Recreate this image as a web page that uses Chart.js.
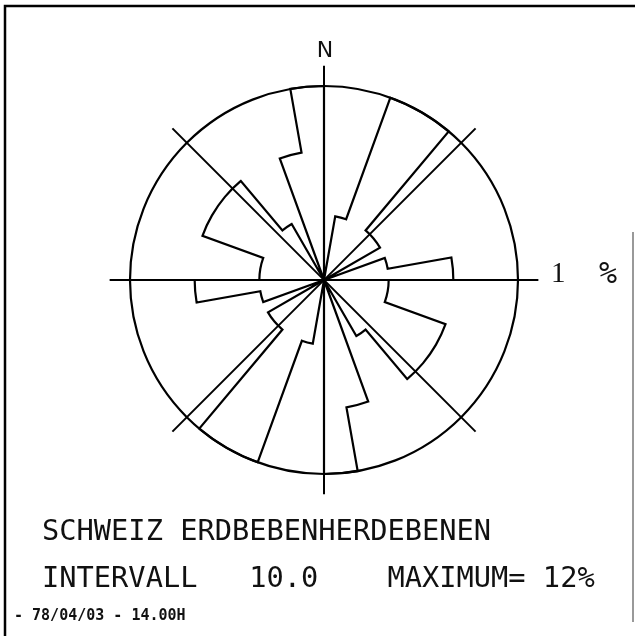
<!DOCTYPE html>
<html>
<head>
<meta charset="utf-8">
<script src="https://cdn.jsdelivr.net/npm/chart.js@4.4.0/dist/chart.umd.min.js"></script>
<style>
  html, body { margin: 0; padding: 0; background: #fff; }
  #wrap { width: 635px; height: 636px; position: relative; }
</style>
</head>
<body>
<div id="wrap"><canvas id="rose" width="635" height="636"></canvas></div>
<script>
'use strict';

// start of each 10 degree class, clockwise from north
let sectorStart = [0, 10, 20, 30, 40, 50, 60, 70, 80,
                   90, 100, 110, 120, 130, 140, 150, 160, 170,
                   180, 190, 200, 210, 220, 230, 240, 250, 260,
                   270, 280, 290, 300, 310, 320, 330, 340, 350];

// percent per class (planes are axial, so the rose repeats after 180)
let percent = [0, 4, 12, 12, 4, 4, 0, 4, 8,
               4, 4, 8, 8, 8, 4, 0, 8, 12,
               0, 4, 12, 12, 4, 4, 0, 4, 8,
               4, 4, 8, 8, 8, 4, 0, 8, 12];

let maxPercent = 12;
let crossAngles = [0, 45, 90, 135];

let titleText = 'SCHWEIZ ERDBEBENHERDEBENEN';
let infoText = 'INTERVALL   10.0    MAXIMUM= 12%';
let dateText = '- 78/04/03 - 14.00H';

let frame = {
  id: 'frame',
  beforeDraw(chart) {
    let ctx = chart.ctx;
    ctx.save();
    ctx.strokeStyle = '#000';
    ctx.lineWidth = 2.5;
    ctx.beginPath();
    ctx.moveTo(5, 636);
    ctx.lineTo(5, 6);
    ctx.lineTo(635, 6);
    ctx.stroke();
    ctx.strokeStyle = '#999';
    ctx.lineWidth = 2;
    ctx.beginPath();
    ctx.moveTo(633, 232);
    ctx.lineTo(633, 622);
    ctx.stroke();
    ctx.restore();
  }
};

let axes = {
  id: 'axes',
  beforeDatasetsDraw(chart) {
    let ctx = chart.ctx;
    let s = chart.scales.r;
    let ext = s.drawingArea * 1.105;
    ctx.save();
    ctx.strokeStyle = '#000';
    ctx.lineWidth = 2;
    crossAngles.forEach(function (deg) {
      let a = deg * Math.PI / 180 - Math.PI / 2;
      ctx.beginPath();
      ctx.moveTo(s.xCenter - ext * Math.cos(a), s.yCenter - ext * Math.sin(a));
      ctx.lineTo(s.xCenter + ext * Math.cos(a), s.yCenter + ext * Math.sin(a));
      ctx.stroke();
    });

    ctx.fillStyle = '#111';
    ctx.textBaseline = 'alphabetic';
    ctx.textAlign = 'center';
    ctx.font = '22px "DejaVu Sans"';
    ctx.fillText('N', s.xCenter + 1, s.yCenter - s.drawingArea - 29);
    ctx.textAlign = 'left';
    ctx.font = '29px "Liberation Serif"';
    ctx.fillText('1', s.xCenter + s.drawingArea + 33, s.yCenter + 2);
    ctx.font = '30px "DejaVu Sans Mono"';
    ctx.fillText('%', s.xCenter + s.drawingArea + 81, s.yCenter + 3);
    ctx.restore();
  }
};

let roseOutline = {
  id: 'roseOutline',
  afterDatasetsDraw(chart) {
    let ctx = chart.ctx;
    let arcs = chart.getDatasetMeta(0).data;
    ctx.save();
    ctx.strokeStyle = '#000';
    ctx.lineWidth = 2.2;
    ctx.beginPath();
    arcs.forEach(function (arc) {
      let p = arc.getProps(['x', 'y', 'startAngle', 'endAngle', 'outerRadius'], true);
      ctx.lineTo(p.x + p.outerRadius * Math.cos(p.startAngle), p.y + p.outerRadius * Math.sin(p.startAngle));
      ctx.arc(p.x, p.y, p.outerRadius, p.startAngle, p.endAngle);
    });
    ctx.closePath();
    ctx.stroke();
    ctx.restore();
  }
};

let captions = {
  id: 'captions',
  afterDraw(chart) {
    let ctx = chart.ctx;
    ctx.save();
    ctx.fillStyle = '#111';
    ctx.textAlign = 'left';
    ctx.textBaseline = 'alphabetic';
    ctx.font = '28.7px "DejaVu Sans Mono"';
    ctx.fillText(titleText, 42, 540);
    ctx.fillText(infoText, 42, 587);
    ctx.font = 'bold 15px "DejaVu Sans Mono"';
    ctx.fillText(dateText, 14, 620);
    ctx.restore();
  }
};

let ctxEl = document.getElementById('rose').getContext('2d');
let roseChart = new Chart(ctxEl, {
  type: 'polarArea',
  data: {
    labels: sectorStart,
    datasets: [{
      data: percent,
      backgroundColor: 'rgba(0,0,0,0)',
      borderWidth: 0
    }]
  },
  options: {
    responsive: false,
    animation: false,
    layout: { padding: { left: 130, right: 116, top: 86, bottom: 162 } },
    plugins: {
      legend: { display: false },
      tooltip: { enabled: false }
    },
    scales: {
      r: {
        min: 0,
        max: maxPercent,
        ticks: { display: false, stepSize: maxPercent },
        grid: { color: '#000', lineWidth: 2.2 },
        angleLines: { display: false },
        pointLabels: { display: false }
      }
    }
  },
  plugins: [frame, axes, roseOutline, captions]
});
</script>
</body>
</html>
